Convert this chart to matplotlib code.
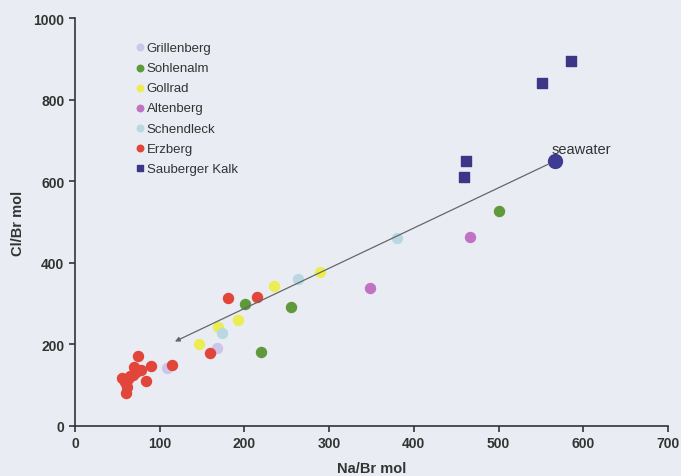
import matplotlib.pyplot as plt

plt.rcParams["font.family"] = ["Liberation Sans", "DejaVu Sans"]

# Na/Br (x) and Cl/Br (y) molar ratios per locality
grillenberg_x = [109, 168]
grillenberg_y = [141, 190]
sohlenalm_x = [501, 255, 201, 220]
sohlenalm_y = [528, 292, 299, 181]
gollrad_x = [289, 235, 192, 169, 147]
gollrad_y = [378, 344, 259, 242, 200]
altenberg_x = [466, 348]
altenberg_y = [462, 338]
schendleck_x = [380, 263, 174]
schendleck_y = [460, 360, 229]
erzberg_x = [181, 215, 159, 114, 90, 75, 55, 70, 78, 72, 65, 59, 61, 84, 60, 63, 68]
erzberg_y = [314, 315, 178, 150, 148, 171, 118, 144, 136, 132, 123, 107, 95, 111, 80, 115, 126]
sauberger_x = [586, 551, 462, 459]
sauberger_y = [894, 842, 649, 611]
seawater = (567, 650)
arrow_end = (118, 207)

bg = "#e9edf3"
fig = plt.figure(figsize=(6.81, 4.77), dpi=100, facecolor=bg)
ax = fig.add_axes([0.110, 0.105, 0.871, 0.855], facecolor=bg)

s = 52
ax.scatter(grillenberg_x, grillenberg_y, s=s, color="#cbc6ea", label="Grillenberg", zorder=3)
ax.scatter(sohlenalm_x, sohlenalm_y, s=s, color="#5e9a3c", label="Sohlenalm", zorder=3)
ax.scatter(gollrad_x, gollrad_y, s=s, color="#ecec55", label="Gollrad", zorder=3)
ax.scatter(altenberg_x, altenberg_y, s=s, color="#c173c3", label="Altenberg", zorder=3)
ax.scatter(schendleck_x, schendleck_y, s=s, color="#bad8e2", label="Schendleck", zorder=3)
ax.scatter(erzberg_x, erzberg_y, s=s, color="#e2453a", label="Erzberg", zorder=3)
ax.scatter(sauberger_x, sauberger_y, s=50, marker="s", color="#3d3585", label="Sauberger Kalk", zorder=3)

ax.scatter([seawater[0]], [seawater[1]], s=100, color="#3e3c92", zorder=4)
ax.text(seawater[0] - 5, seawater[1] + 12, "seawater", fontsize=10.5, color="#333333", va="bottom")
ax.annotate("", xy=arrow_end, xytext=seawater,
            arrowprops=dict(arrowstyle="-|>", color="#666666", lw=0.9,
                            mutation_scale=7, shrinkA=6, shrinkB=0))

ax.set_xlim(0, 700)
ax.set_ylim(0, 1000)
ax.set_xticks(range(0, 701, 100))
ax.set_yticks(range(0, 1001, 200))
for sp in ["top", "right"]:
    ax.spines[sp].set_visible(False)
for sp in ["left", "bottom"]:
    ax.spines[sp].set_color("#333333")
    ax.spines[sp].set_linewidth(1.2)
ax.tick_params(colors="#333333", width=1.2, length=4, labelsize=10)
for lbl in ax.get_xticklabels() + ax.get_yticklabels():
    lbl.set_fontweight("bold")

ax.set_xlabel("Na/Br mol", fontsize=10.5, fontweight="bold", color="#333333", labelpad=8)
ax.set_ylabel("Cl/Br mol", fontsize=10.5, fontweight="bold", color="#333333", labelpad=6)

leg = ax.legend(loc="upper left", bbox_to_anchor=(0.09, 0.955), frameon=False,
                fontsize=9.5, handletextpad=0.1, handlelength=0.9,
                markerscale=0.65, labelspacing=0.6, borderaxespad=0)
for t in leg.get_texts():
    t.set_color("#333333")

fig.savefig("out.png", dpi=100, facecolor=bg)
